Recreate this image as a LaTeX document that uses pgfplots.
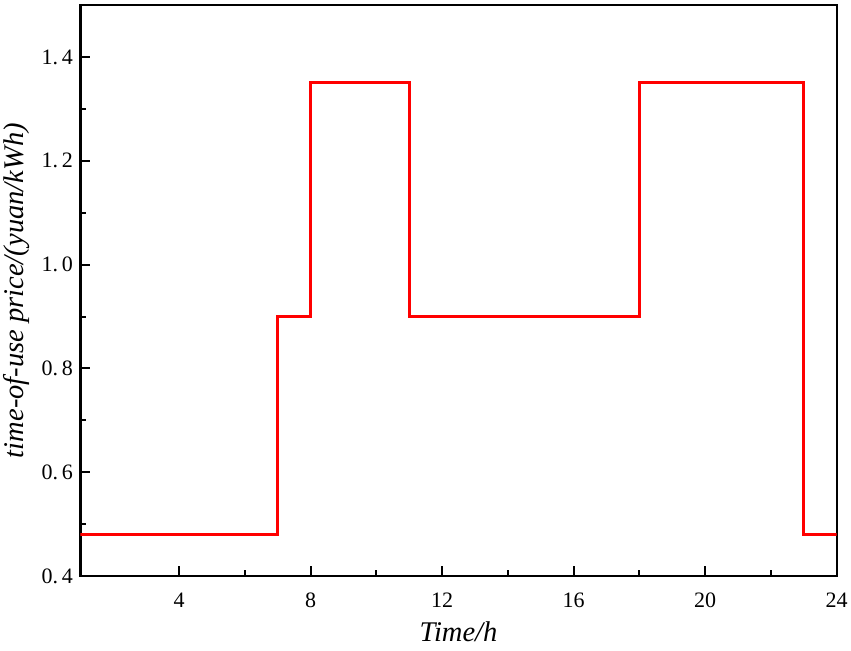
\documentclass[border=0pt]{standalone}
\usepackage{fontspec}
\setmainfont{Liberation Serif}
\usepackage{pgfplots}
\pgfplotsset{compat=1.18}
\begin{document}
\begin{tikzpicture}
\begin{axis}[
  scale only axis,
  width=756pt, height=571pt,
  xmin=1, xmax=24, ymin=0.4, ymax=1.5,
  xtick={4,8,12,16,20,24},
  ytick={0.4,0.6,0.8,1.0,1.2,1.4},
  yticklabels={0.\,4,0.\,6,0.\,8,1.\,0,1.\,2,1.\,4},
  minor x tick num=1,
  minor y tick num=1,
  tick align=inside,
  xtick pos=bottom, ytick pos=left,
  major tick length=10pt, minor tick length=6pt,
  every tick/.style={black, line width=2pt},
  axis line style={line width=2.2pt},
  /pgf/number format/assume math mode=true,
  ticklabel style={font=\fontsize{22}{26}\selectfont},
  yticklabel style={xshift=-4pt},
  xticklabel style={anchor=base, yshift=-31pt},
  xlabel={\textit{Time/h}},
  ylabel={\textit{time-of-use price/(yuan/kWh)}},
  label style={font=\fontsize{28.5}{32}\selectfont},
  xlabel style={at={([yshift=-65pt]axis description cs:0.5,0)}, anchor=base},
  ylabel style={at={([xshift=-57pt]axis description cs:0,0.5)}, anchor=base},
]
\addplot[red, line width=2.8pt, const plot] coordinates {
  (1,0.48) (7,0.9) (8,1.35) (11,0.9) (18,1.35) (23,0.48) (24,0.48)
};
\end{axis}
\path ([yshift=5pt]current axis.north east);
\path ([yshift=-74pt]current axis.south);
\end{tikzpicture}
\end{document}
